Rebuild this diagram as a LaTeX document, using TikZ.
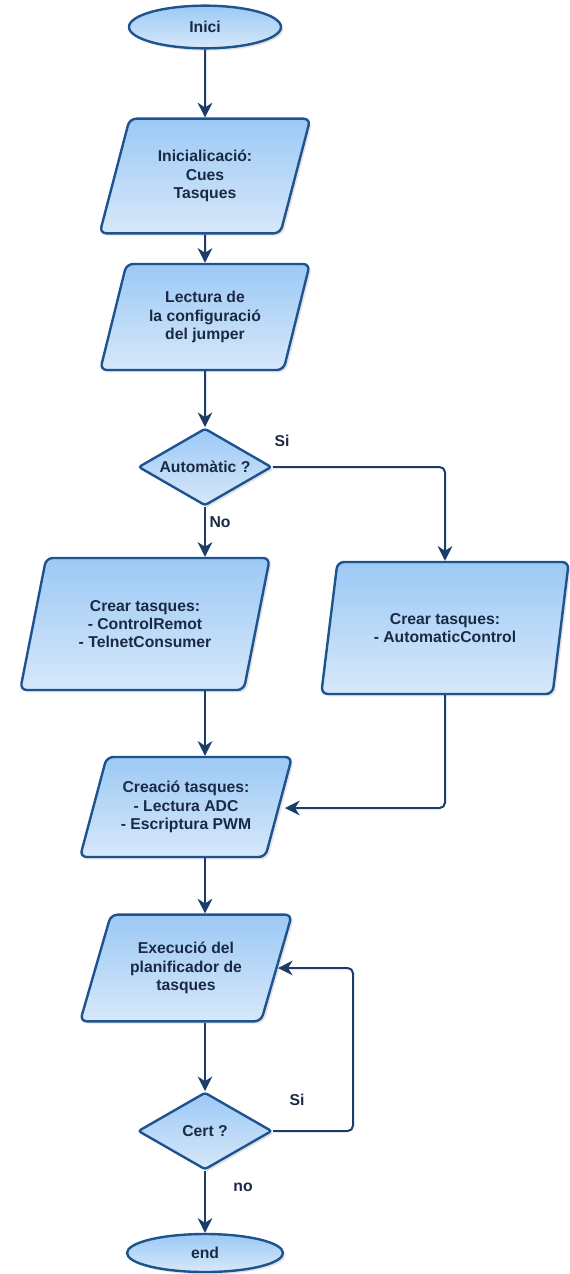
\documentclass[tikz,border=0pt]{standalone}
\usepackage{fontspec}
\setmainfont{Liberation Sans}
\usetikzlibrary{shapes.geometric,arrows.meta,shadows,calc}

\definecolor{boxline}{HTML}{1D5490}
\definecolor{boxtop}{HTML}{9CC9F5}
\definecolor{boxbot}{HTML}{D7E8FA}
\definecolor{wire}{HTML}{1B3D68}
\definecolor{ink}{HTML}{1A2A45}

\tikzset{
  shape base/.style={draw=boxline, line width=1.8pt, top color=boxtop, bottom color=boxbot,
    text=ink, font=\bfseries\fontsize{11.8}{13.8}\selectfont, align=center, inner sep=0pt,
    drop shadow={opacity=0.22, shadow xshift=1.8pt, shadow yshift=-1.8pt}},
  terminal/.style={shape base, ellipse},
  iobox/.style={shape base, trapezium, trapezium left angle=70, trapezium right angle=110,
    trapezium stretches=true, rounded corners=5pt},
  decision/.style={shape base, diamond, aspect=1.73, rounded corners=2pt},
  conn/.style={draw=wire, line width=1.5pt, rounded corners=4pt,
    -{Stealth[length=11pt,width=11pt,inset=3.5pt]}},
  tag/.style={text=ink, font=\bfseries\fontsize{11.8}{13.8}\selectfont, inner sep=0pt}
}

\begin{document}
\begin{tikzpicture}[x=0.75pt, y=-0.75pt]
  \useasboundingbox[fill=white] (0,0) rectangle (569,1274);

  % start and the two set-up steps
  \node[terminal, minimum width=114pt, minimum height=32pt] (ini) at (205,27) {Inici};
  \node[iobox, minimum width=158pt, minimum height=86pt] (init) at (205,176)
    {Inicialicació:\\Cues\\Tasques};
  \node[iobox, minimum width=157.5pt, minimum height=79.5pt] (jump) at (205,317)
    {Lectura de\\la configuració\\del jumper};

  % mode decision and the two task sets
  \node[decision, minimum width=100pt, minimum height=58pt] (aut) at (205,467) {Automàtic ?};
  \node[iobox, minimum width=187.5pt, minimum height=99pt] (manual) at (145,624)
    {Crear tasques:\\- ControlRemot\\- TelnetConsumer};
  \node[iobox, minimum width=186pt, minimum height=99pt] (auto) at (445,628)
    {Crear tasques:\\- AutomaticControl};

  % common tasks, scheduler, loop test and end
  \node[iobox, trapezium left angle=67, trapezium right angle=113,
        minimum width=159pt, minimum height=75pt] (common) at (186,807)
    {Creació tasques:\\- Lectura ADC\\- Escriptura PWM};
  \node[iobox, trapezium left angle=66, trapezium right angle=114,
        minimum width=159pt, minimum height=80pt] (sched) at (186,968)
    {Execució del\\planificador de\\tasques};
  \node[decision, minimum width=100.5pt, minimum height=58pt] (cert) at (205,1131) {Cert ?};
  \node[terminal, minimum width=117pt, minimum height=28.5pt] (fin) at (205,1253) {end};

  % free ends of the side connectors
  \coordinate (commonin) at (285,808);
  \coordinate (loopcorner) at (353,968);
  \coordinate (schedin) at (278,968);

  % connectors
  \draw[conn] (ini) -- (init);
  \draw[conn] (init) -- (jump);
  \draw[conn] (jump) -- (aut);
  \draw[conn] (aut.south) -- (aut.south |- manual.north);
  \draw[conn] (aut.east) -| (auto.north);
  \draw[conn] (aut.south |- manual.south) -- (aut.south |- common.north);
  \draw[conn] (auto.south) |- (commonin);
  \draw[conn] (aut.south |- common.south) -- (aut.south |- sched.north);
  \draw[conn] (cert.north |- sched.south) -- (cert.north);
  \draw[conn] (cert.east) -| (loopcorner) -- (schedin);
  \draw[conn] (cert.south) -- (fin.north);

  % branch labels
  \node[tag] (tsi1) at (282,441) {Si};
  \node[tag] (tno1) at (220,522) {No};
  \node[tag] (tsi2) at (297,1100) {Si};
  \node[tag] (tno2) at (243,1187) {no};
\end{tikzpicture}
\end{document}
